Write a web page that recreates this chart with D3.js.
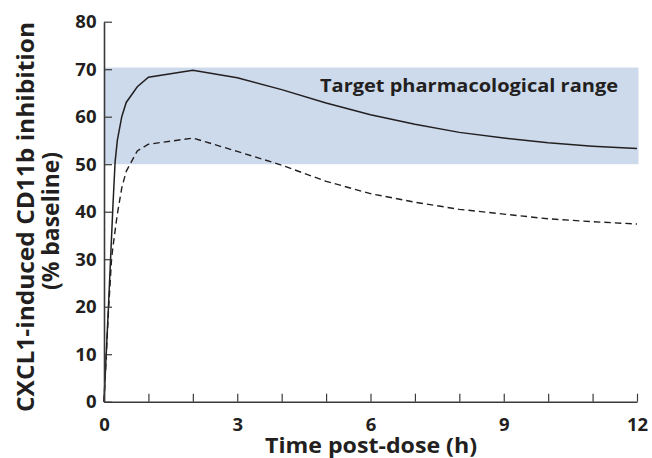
<!DOCTYPE html>
<html>
<head>
<meta charset="utf-8">
<script src="https://cdn.jsdelivr.net/npm/d3@7"></script>
<style>
  body { margin: 0; background: #fff; }
  svg text { font-family: "Open Sans", Lato, sans-serif; font-weight: bold; fill: #231f20; }
</style>
</head>
<body>
<svg id="chart" width="652" height="458"></svg>
<script>
// ---- data ----
const timeSolid = [0, 0.1, 0.2, 0.25, 0.3, 0.4, 0.5, 0.75, 1, 2, 3, 4, 5, 6, 7, 8, 9, 10, 11, 12];
const solidValues = [0, 20, 41, 50.5, 55, 60, 63, 66.3, 68.3, 69.8, 68.2, 65.7, 62.9, 60.4, 58.4, 56.7, 55.5, 54.5, 53.8, 53.3];
const timeDashed = [0, 0.1, 0.17, 0.2, 0.3, 0.4, 0.5, 0.75, 1, 2, 3, 4, 5, 6, 7, 8, 9, 10, 11, 12];
const dashedValues = [0, 19, 30, 32.5, 39.5, 45, 48.5, 52.8, 54.2, 55.5, 52.7, 49.8, 46.4, 43.8, 42.0, 40.5, 39.5, 38.5, 37.9, 37.4];
const targetRange = [50, 70.35];
const xTicks = [0, 1, 2, 3, 4, 5, 6, 7, 8, 9, 10, 11, 12];
const xTickLabels = ["0", "", "", "3", "", "", "6", "", "", "9", "", "", "12"];
const yTicks = [0, 10, 20, 30, 40, 50, 60, 70, 80];
const xTitle = "Time post-dose (h)";
const yTitleLines = ["CXCL1-induced CD11b inhibition", "(% baseline)"];
const bandLabel = "Target pharmacological range";

// ---- layout ----
const svg = d3.select("#chart");
const x = d3.scaleLinear().domain([0, 12]).range([104, 637]);
const y = d3.scaleLinear().domain([0, 80]).range([401.7, 21.7]);

// band
svg.append("rect")
  .attr("x", x(0)).attr("y", y(targetRange[1]))
  .attr("width", x(12) + 1.5 - x(0))
  .attr("height", y(targetRange[0]) - y(targetRange[1]))
  .attr("fill", "#ccdaec");

svg.append("text")
  .attr("x", 320).attr("y", 91.5)
  .attr("textLength", 298).attr("lengthAdjust", "spacingAndGlyphs")
  .style("font-size", "17.5px")
  .text(bandLabel);

// lines
const solidPts = timeSolid.map((t, i) => [t, solidValues[i]]);
const dashedPts = timeDashed.map((t, i) => [t, dashedValues[i]]);
const line = d3.line().x(d => x(d[0])).y(d => y(d[1]));

svg.append("path").datum(dashedPts)
  .attr("d", line).attr("fill", "none")
  .attr("stroke", "#231f20").attr("stroke-width", 1.4)
  .attr("stroke-dasharray", "6.5,4");

svg.append("path").datum(solidPts)
  .attr("d", line).attr("fill", "none")
  .attr("stroke", "#231f20").attr("stroke-width", 1.5);

// axes
const xAxis = d3.axisBottom(x).tickValues(xTicks).tickSize(-8).tickSizeOuter(0)
  .tickFormat((d, i) => xTickLabels[i]).tickPadding(16);
const gx = svg.append("g").attr("transform", `translate(0,${y(0)})`).call(xAxis);
gx.select(".domain").attr("stroke", "#3a3a3a").attr("stroke-width", 1.6);
gx.selectAll(".tick line").attr("stroke", "#3a3a3a").attr("stroke-width", 1.2);
gx.selectAll(".tick text").style("font-size", "18.5px").attr("fill", "#231f20");

const yAxis = d3.axisLeft(y).tickValues(yTicks).tickSize(-8).tickSizeOuter(0).tickPadding(7.5);
const gy = svg.append("g").attr("transform", `translate(${x(0)},0)`).call(yAxis);
gy.select(".domain").attr("stroke", "#3a3a3a").attr("stroke-width", 1.6);
gy.selectAll(".tick line").attr("stroke", "#3a3a3a").attr("stroke-width", 1.2);
gy.selectAll(".tick text").style("font-size", "18.5px").attr("fill", "#231f20");

// titles
svg.append("text")
  .attr("x", 265).attr("y", 453)
  .attr("textLength", 212).attr("lengthAdjust", "spacingAndGlyphs")
  .style("font-size", "22px")
  .text(xTitle);

const yt = svg.append("g").attr("transform", "rotate(-90)");
yt.append("text").attr("x", -412).attr("y", 34)
  .attr("textLength", 390).attr("lengthAdjust", "spacingAndGlyphs")
  .style("font-size", "24px").text(yTitleLines[0]);
yt.append("text").attr("x", -290).attr("y", 59)
  .attr("textLength", 138).attr("lengthAdjust", "spacingAndGlyphs")
  .style("font-size", "24px").text(yTitleLines[1]);
</script>
</body>
</html>
